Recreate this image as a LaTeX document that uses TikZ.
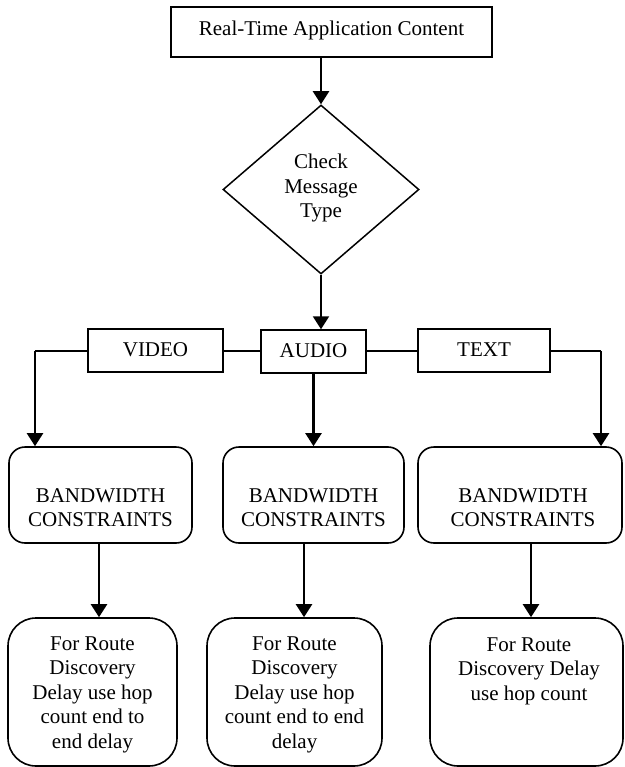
\documentclass[tikz,border=0pt]{standalone}
\usepackage{fontspec}
\setmainfont{Liberation Serif}
\usetikzlibrary{shapes.geometric,arrows.meta}
\begin{document}
\begin{tikzpicture}[x=1pt,y=-1pt,
  every node/.style={font=\fontsize{21}{24.5}\selectfont},
  sqbox/.style={draw,line width=1.5pt,rectangle,inner sep=0pt},
  rbox/.style={draw,line width=1.6pt,rectangle,rounded corners=16pt,inner sep=0pt},
  rrbox/.style={draw,line width=1.6pt,rectangle,rounded corners=28pt,inner sep=0pt},
  dbox/.style={draw,line width=1.5pt,diamond,inner sep=0pt},
  txt/.style={align=center,inner sep=0pt},
  arr/.style={line width=2.2pt,-{Triangle[width=16pt,length=13pt]}},
  ln/.style={line width=2pt}]
\useasboundingbox (0,0) rectangle (624,767);
% top
\node[sqbox,minimum width=321pt,minimum height=50pt] (top) at (331.5,32) {};
\node[txt] (toptxt) at (331.5,30) {Real-Time Application Content};
% diamond
\node[dbox,minimum width=196pt,minimum height=169pt] (dia) at (321,189.5) {};
\node[txt] (diatxt) at (321,188) {Check\\Message\\Type};
% type boxes
\node[sqbox,minimum width=135pt,minimum height=43pt] (video) at (155.5,350.5) {};
\node[txt] (videotxt) at (155.5,350) {VIDEO};
\node[sqbox,minimum width=105pt,minimum height=43pt] (audio) at (313.5,351.5) {};
\node[txt] (audiotxt) at (313.5,351) {AUDIO};
\node[sqbox,minimum width=132pt,minimum height=43pt] (text) at (484,350.5) {};
\node[txt] (texttxt) at (484,350) {TEXT};
\coordinate (lc) at (35,351);
\coordinate (rc) at (601,351);
% bandwidth boxes
\node[rbox,minimum width=183pt,minimum height=96pt] (bw1) at (100.5,495) {};
\node[rbox,minimum width=181pt,minimum height=96pt] (bw2) at (313.5,495) {};
\node[rbox,minimum width=204pt,minimum height=96pt] (bw3) at (520,495) {};
\node[txt] (bw1txt) at ([yshift=-12.5pt]bw1.center) {BANDWIDTH\\CONSTRAINTS};
\node[txt] (bw2txt) at ([yshift=-12.5pt]bw2.center) {BANDWIDTH\\CONSTRAINTS};
\node[txt] (bw3txt) at ([xshift=3pt,yshift=-12.5pt]bw3.center) {BANDWIDTH\\CONSTRAINTS};
% route boxes
\node[rrbox,minimum width=169pt,minimum height=148pt] (rb1) at (92.5,692) {};
\node[rrbox,minimum width=175pt,minimum height=148pt] (rb2) at (294.5,692) {};
\node[rrbox,minimum width=193pt,minimum height=148pt] (rb3) at (526.5,692) {};
\node[txt] (rb1txt) at ([yshift=-2.5pt]rb1.center) {For Route\\Discovery\\Delay use hop\\count end to\\end delay};
\node[txt] (rb2txt) at ([yshift=-2.5pt]rb2.center) {For Route\\Discovery\\Delay use hop\\count end to end\\delay};
\node[txt,anchor=north] (rb3txt) at ([xshift=2.5pt,yshift=-20pt]rb3.north) {For Route\\Discovery Delay\\use hop count};
% connectors
\draw[arr] (dia.north |- top.south) -- (dia.north);
\draw[arr] (dia.south) -- (dia.south |- audio.north);
\draw[ln] (video.west |- lc) -- (lc);
\draw[ln] (video.east |- lc) -- (audio.west |- lc);
\draw[ln] (audio.east |- lc) -- (text.west |- lc);
\draw[ln] (text.east |- rc) -- (rc);
\draw[arr] (lc) -- (lc |- bw1.north);
\draw[arr] (rc) -- (rc |- bw3.north);
\draw[arr] (audio.south) -- (audio.south |- bw2.north);
\draw[arr] ([xshift=-1.5pt]bw1.south) -- ([xshift=-1.5pt]bw1.south |- rb1.north);
\draw[arr] ([xshift=-9.5pt]bw2.south) -- ([xshift=-9.5pt]bw2.south |- rb2.north);
\draw[arr] ([xshift=11pt]bw3.south) -- ([xshift=11pt]bw3.south |- rb3.north);
\end{tikzpicture}
\end{document}
